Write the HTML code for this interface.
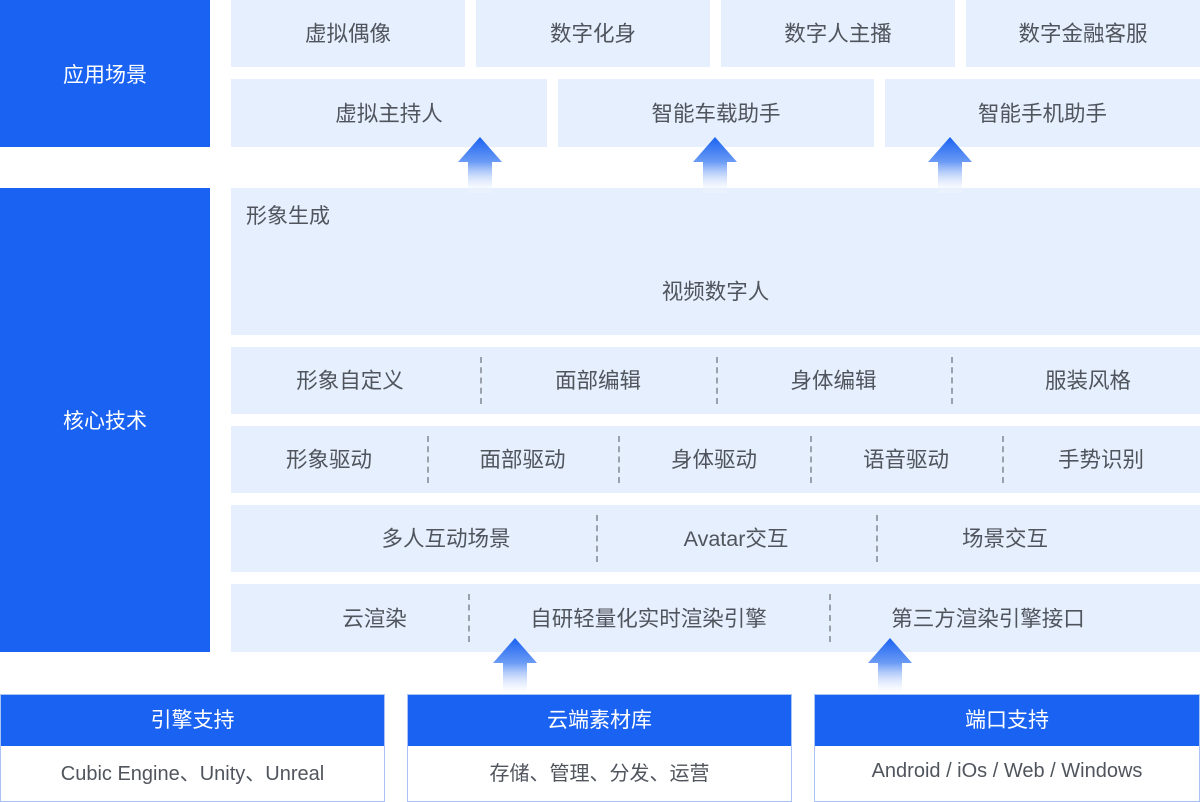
<!DOCTYPE html>
<html><head><meta charset="utf-8"><style>
body{margin:0;width:1200px;height:802px;position:relative;background:#fff;font-family:"Liberation Sans","Noto Sans CJK SC",sans-serif;overflow:hidden}
.a{position:absolute;box-sizing:border-box}
.b{background:#1a62f1;color:#fff;font-size:21px;display:flex;align-items:center;justify-content:center}
.l{background:#e6effd;color:#50555d;font-size:21.5px;display:flex;align-items:center;justify-content:center}
.d{position:absolute;top:10px;bottom:10px;border-left:2px dashed #9aa1ab;width:0}
.t{position:absolute;top:-1px;height:100%;display:flex;align-items:center;justify-content:center}
.w{background:#fff;border:1px solid #a9c3f5;border-top:none;color:#50555d;font-size:20px;display:flex;align-items:center;justify-content:center}
.ar{position:absolute;width:44px;height:56px}
</style></head><body>
<div class="a b" style="left:0;top:0;width:210px;height:147px">应用场景</div>
<div class="a b" style="left:0;top:188px;width:210px;height:464px">核心技术</div>

<div class="a l" style="left:231px;top:0;width:234px;height:67px;padding-bottom:2px">虚拟偶像</div>
<div class="a l" style="left:476px;top:0;width:234px;height:67px;padding-bottom:2px">数字化身</div>
<div class="a l" style="left:721px;top:0;width:234px;height:67px;padding-bottom:2px">数字人主播</div>
<div class="a l" style="left:966px;top:0;width:234px;height:67px;padding-bottom:2px">数字金融客服</div>
<div class="a l" style="left:231px;top:79px;width:316px;height:68px;padding-bottom:2px">虚拟主持人</div>
<div class="a l" style="left:558px;top:79px;width:316px;height:68px;padding-bottom:2px">智能车载助手</div>
<div class="a l" style="left:885px;top:79px;width:315px;height:68px;padding-bottom:2px">智能手机助手</div>

<div class="a l" style="left:231px;top:188px;width:969px;height:147px;padding-top:58px">视频数字人</div>
<div class="a" style="left:246px;top:200px;font-size:21px;color:#50555d">形象生成</div>

<div class="a l" style="left:231px;top:347px;width:969px;height:67px;display:block">
<div class="t" style="left:0;width:238px">形象自定义</div><div class="d" style="left:249px"></div>
<div class="t" style="left:249px;width:236px">面部编辑</div><div class="d" style="left:485px"></div>
<div class="t" style="left:485px;width:235px">身体编辑</div><div class="d" style="left:720px"></div>
<div class="t" style="left:740px;width:234px">服装风格</div></div>

<div class="a l" style="left:231px;top:426px;width:969px;height:67px;display:block">
<div class="t" style="left:0;width:196px">形象驱动</div><div class="d" style="left:196px"></div>
<div class="t" style="left:196px;width:191px">面部驱动</div><div class="d" style="left:387px"></div>
<div class="t" style="left:387px;width:192px">身体驱动</div><div class="d" style="left:579px"></div>
<div class="t" style="left:579px;width:192px">语音驱动</div><div class="d" style="left:771px"></div>
<div class="t" style="left:771px;width:198px">手势识别</div></div>

<div class="a l" style="left:231px;top:505px;width:969px;height:67px;display:block">
<div class="t" style="left:65px;width:300px">多人互动场景</div><div class="d" style="left:365px"></div>
<div class="t" style="left:365px;width:280px">Avatar交互</div><div class="d" style="left:645px"></div>
<div class="t" style="left:645px;width:258px">场景交互</div></div>

<div class="a l" style="left:231px;top:584px;width:969px;height:68px;display:block">
<div class="t" style="left:50px;width:187px">云渲染</div><div class="d" style="left:237px"></div>
<div class="t" style="left:237px;width:361px">自研轻量化实时渲染引擎</div><div class="d" style="left:598px"></div>
<div class="t" style="left:598px;width:318px">第三方渲染引擎接口</div></div>

<div class="a b" style="left:0;top:694px;width:385px;height:52px;border:1px solid #a9c3f5;border-bottom:none;padding-bottom:3px">引擎支持</div>
<div class="a w" style="left:0;top:746px;width:385px;height:56px;padding-bottom:4px">Cubic Engine、Unity、Unreal</div>
<div class="a b" style="left:407px;top:694px;width:385px;height:52px;border:1px solid #a9c3f5;border-bottom:none;padding-bottom:3px">云端素材库</div>
<div class="a w" style="left:407px;top:746px;width:385px;height:56px;padding-bottom:4px">存储、管理、分发、运营</div>
<div class="a b" style="left:814px;top:694px;width:386px;height:52px;border:1px solid #a9c3f5;border-bottom:none;padding-bottom:3px">端口支持</div>
<div class="a w" style="left:814px;top:746px;width:386px;height:56px;padding-bottom:4px">Android / iOs / Web / Windows</div>

<svg width="0" height="0" style="position:absolute"><defs><linearGradient id="g" x1="0" y1="0" x2="0" y2="1"><stop offset="0" stop-color="#1a62f1"/><stop offset="0.45" stop-color="#6c9cf5"/><stop offset="1" stop-color="#fff" stop-opacity="0.2"/></linearGradient></defs></svg>
<svg class="ar" style="left:458px;top:137px" viewBox="0 0 44 56"><path d="M22 0 L44 25 L34 25 L34 56 L10 56 L10 25 L0 25 Z" fill="url(#g)"/></svg>
<svg class="ar" style="left:693px;top:137px" viewBox="0 0 44 56"><path d="M22 0 L44 25 L34 25 L34 56 L10 56 L10 25 L0 25 Z" fill="url(#g)"/></svg>
<svg class="ar" style="left:928px;top:137px" viewBox="0 0 44 56"><path d="M22 0 L44 25 L34 25 L34 56 L10 56 L10 25 L0 25 Z" fill="url(#g)"/></svg>
<svg class="ar" style="left:493px;top:638px" viewBox="0 0 44 56"><path d="M22 0 L44 25 L34 25 L34 56 L10 56 L10 25 L0 25 Z" fill="url(#g)"/></svg>
<svg class="ar" style="left:868px;top:638px" viewBox="0 0 44 56"><path d="M22 0 L44 25 L34 25 L34 56 L10 56 L10 25 L0 25 Z" fill="url(#g)"/></svg>
</body></html>
